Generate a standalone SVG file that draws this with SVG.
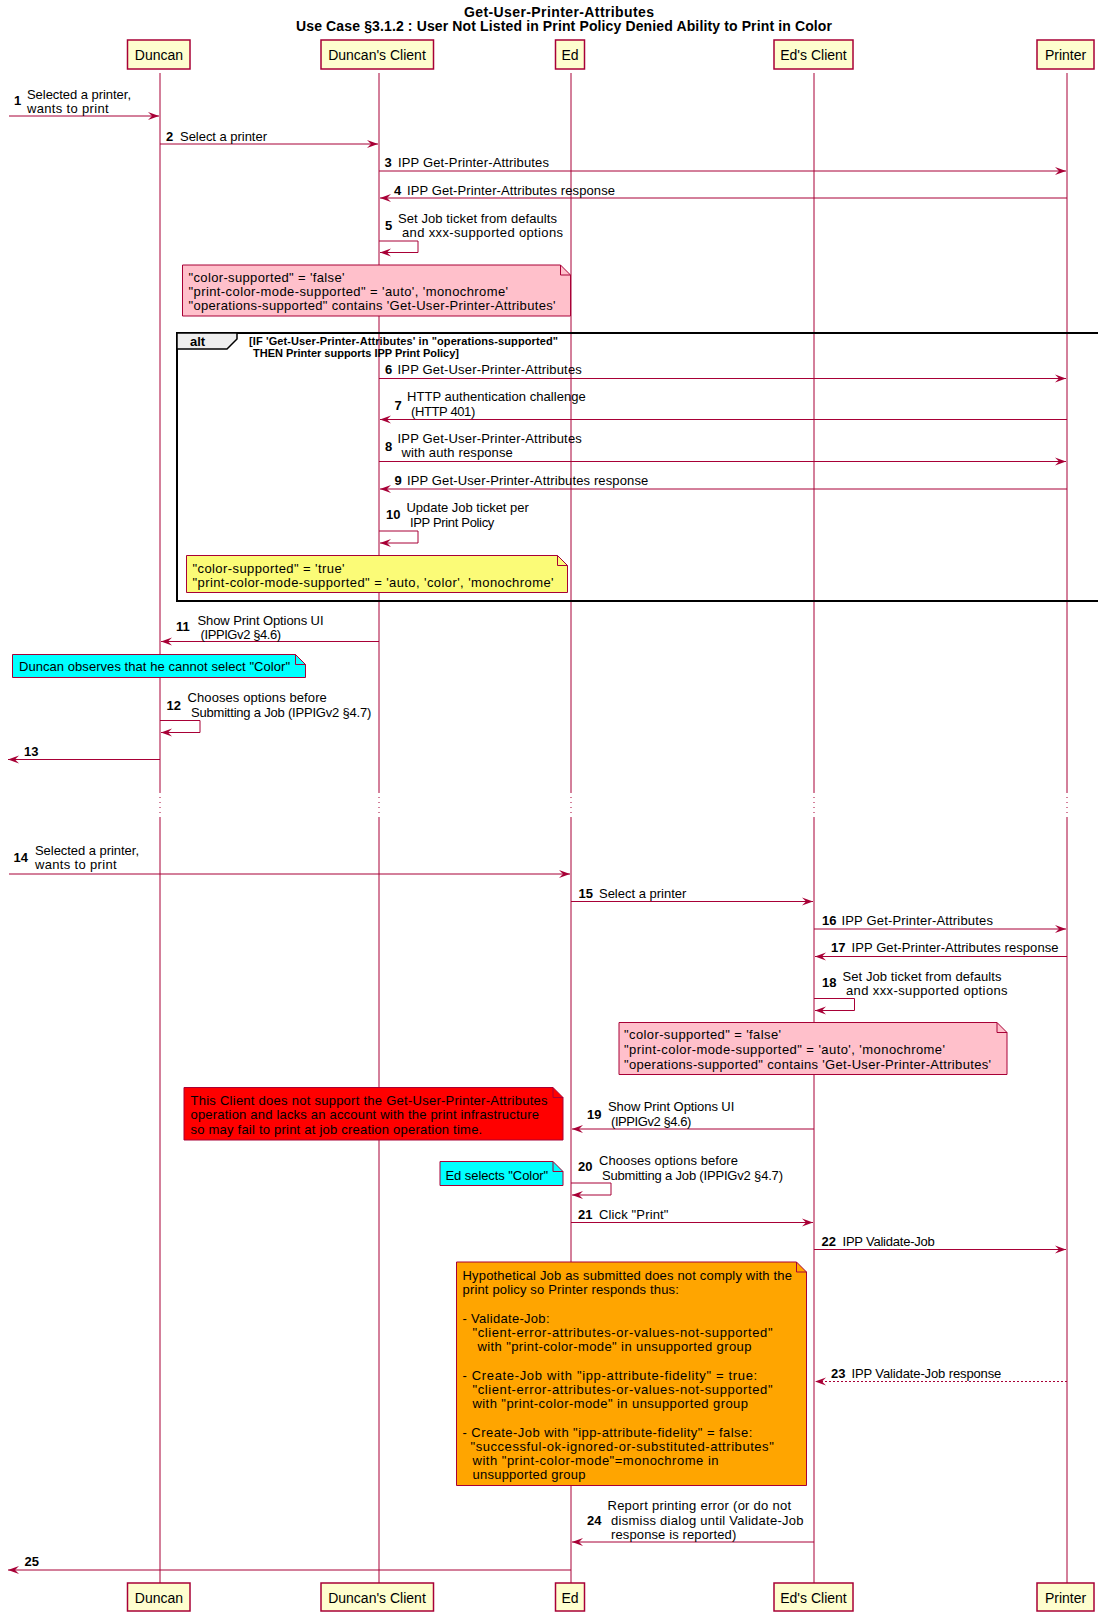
<svg xmlns="http://www.w3.org/2000/svg" width="1098" height="1612" viewBox="0 0 1098 1612">
<style>
text{font-family:"Liberation Sans",Arial,sans-serif;font-size:13px;fill:#000}
.title{font-size:14px;font-weight:bold}
.pt{font-size:14px;text-anchor:middle}
.num{font-weight:bold}
.guard{font-size:11px;font-weight:bold}
.box{fill:#FEFECE;stroke:#A80036;stroke-width:1.5}
.life{stroke:#A80036;stroke-width:1;fill:none}
.dots{stroke:#A80036;stroke-width:1;stroke-dasharray:1,4;fill:none}
.msg{stroke:#A80036;stroke-width:1;fill:none;marker-end:url(#ah)}
.dmsg{stroke:#A80036;stroke-width:1;fill:none;stroke-dasharray:2,2;marker-end:url(#ah)}
.note{stroke:#A80036;stroke-width:1}
.fold{fill:none;stroke:#A80036;stroke-width:1}
.frame{fill:none;stroke:#000;stroke-width:2}
.tab{fill:#EEEEEE;stroke:#000;stroke-width:1.5}
</style>
<defs>
<marker id="ah" markerUnits="userSpaceOnUse" markerWidth="12" markerHeight="10" refX="11" refY="4" orient="auto" viewBox="0 0 12 8">
<path d="M0,0 L11,4 L0,8 L4,4 Z" fill="#A80036"/>
</marker>
</defs>

<text class="title" x="464" y="17" textLength="190">Get-User-Printer-Attributes</text>
<text class="title" x="296" y="31" textLength="536">Use Case §3.1.2 : User Not Listed in Print Policy Denied Ability to Print in Color</text>

<g id="lifelines">
<path class="life" d="M160,73 V792 M160,817 V1583"/>
<path class="dots" d="M160,792 V817"/>
<path class="life" d="M379,73 V792 M379,817 V1583"/>
<path class="dots" d="M379,792 V817"/>
<path class="life" d="M571,73 V792 M571,817 V1583"/>
<path class="dots" d="M571,792 V817"/>
<path class="life" d="M814,73 V792 M814,817 V1583"/>
<path class="dots" d="M814,792 V817"/>
<path class="life" d="M1067,73 V792 M1067,817 V1583"/>
<path class="dots" d="M1067,792 V817"/>
</g>

<g id="p-duncan">
<rect class="box" x="127.5" y="40" width="62.5" height="29"/>
<text class="pt" x="159" y="60">Duncan</text>
<rect class="box" x="127.5" y="1583" width="62.5" height="28"/>
<text class="pt" x="159" y="1603">Duncan</text>
</g>
<g id="p-dclient">
<rect class="box" x="321" y="40" width="112.5" height="29"/>
<text class="pt" x="377" y="60">Duncan's Client</text>
<rect class="box" x="321" y="1583" width="112.5" height="28"/>
<text class="pt" x="377" y="1603">Duncan's Client</text>
</g>
<g id="p-ed">
<rect class="box" x="555.5" y="40" width="29" height="29"/>
<text class="pt" x="570" y="60">Ed</text>
<rect class="box" x="555.5" y="1583" width="29" height="28"/>
<text class="pt" x="570" y="1603">Ed</text>
</g>
<g id="p-eclient">
<rect class="box" x="774" y="40" width="79" height="29"/>
<text class="pt" x="813.5" y="60">Ed's Client</text>
<rect class="box" x="774" y="1583" width="79" height="28"/>
<text class="pt" x="813.5" y="1603">Ed's Client</text>
</g>
<g id="p-printer">
<rect class="box" x="1037" y="40" width="57" height="29"/>
<text class="pt" x="1065.5" y="60">Printer</text>
<rect class="box" x="1037" y="1583" width="57" height="28"/>
<text class="pt" x="1065.5" y="1603">Printer</text>
</g>

<g id="alt-frame">
<rect class="frame" x="177" y="333" width="930" height="268"/>
<polygon class="tab" points="177,333 237,333 237,339 227,349 177,349"/>
<text class="num" x="190" y="345.5">alt</text>
<text class="guard" x="249" y="344.5" textLength="309">[IF 'Get-User-Printer-Attributes' in "operations-supported"</text>
<text class="guard" x="253" y="356.5" textLength="206">THEN Printer supports IPP Print Policy]</text>
</g>

<g id="connectors">
<line class="msg" x1="9" y1="116" x2="159" y2="116"/>
<line class="msg" x1="160" y1="144" x2="378" y2="144"/>
<line class="msg" x1="379" y1="171" x2="1066" y2="171"/>
<line class="msg" x1="1067" y1="198" x2="380" y2="198"/>
<polyline class="msg" points="379,241 418,241 418,252.5 380,252.5"/>
<line class="msg" x1="379" y1="378.5" x2="1066" y2="378.5"/>
<line class="msg" x1="1067" y1="419.5" x2="380" y2="419.5"/>
<line class="msg" x1="379" y1="461.5" x2="1066" y2="461.5"/>
<line class="msg" x1="1067" y1="489" x2="380" y2="489"/>
<polyline class="msg" points="379,531 418,531 418,543 380,543"/>
<line class="msg" x1="379" y1="641.5" x2="161" y2="641.5"/>
<polyline class="msg" points="160,720.5 200,720.5 200,732.5 161,732.5"/>
<line class="msg" x1="160" y1="759.5" x2="8" y2="759.5"/>
<line class="msg" x1="9" y1="874" x2="570" y2="874"/>
<line class="msg" x1="571" y1="901.5" x2="813" y2="901.5"/>
<line class="msg" x1="814" y1="929" x2="1066" y2="929"/>
<line class="msg" x1="1067" y1="956.5" x2="815" y2="956.5"/>
<polyline class="msg" points="814,998.5 854.5,998.5 854.5,1010.5 815,1010.5"/>
<line class="msg" x1="814" y1="1129" x2="572" y2="1129"/>
<polyline class="msg" points="571,1183 611,1183 611,1195 572,1195"/>
<line class="msg" x1="571" y1="1222.5" x2="813" y2="1222.5"/>
<line class="msg" x1="814" y1="1249.5" x2="1066" y2="1249.5"/>
<line class="dmsg" x1="1067" y1="1381.5" x2="815" y2="1381.5"/>
<line class="msg" x1="814" y1="1542" x2="572" y2="1542"/>
<line class="msg" x1="571" y1="1570" x2="8" y2="1570"/>
</g>

<g id="labels">
<text class="num" x="14" y="105">1</text>
<text x="27" y="98.5" textLength="104">Selected a printer,</text>
<text x="27" y="113" textLength="81.7">wants to print</text>
<text class="num" x="166" y="140.5">2</text>
<text x="180" y="140.5" textLength="87">Select a printer</text>
<text class="num" x="384.5" y="167">3</text>
<text x="398" y="167" textLength="151">IPP Get-Printer-Attributes</text>
<text class="num" x="394" y="195">4</text>
<text x="407" y="195" textLength="208">IPP Get-Printer-Attributes response</text>
<text class="num" x="385" y="230">5</text>
<text x="398" y="222.5" textLength="159">Set Job ticket from defaults</text>
<text x="402" y="236.5" textLength="161">and xxx-supported options</text>
<text class="num" x="385" y="374">6</text>
<text x="397.5" y="374" textLength="184.3">IPP Get-User-Printer-Attributes</text>
<text class="num" x="394.5" y="409.5">7</text>
<text x="407" y="401" textLength="178.7">HTTP authentication challenge</text>
<text x="411" y="416" textLength="64.3">(HTTP 401)</text>
<text class="num" x="385" y="450.5">8</text>
<text x="397.5" y="443" textLength="184.3">IPP Get-User-Printer-Attributes</text>
<text x="401.5" y="457" textLength="111.3">with auth response</text>
<text class="num" x="394.5" y="485">9</text>
<text x="407" y="485" textLength="241.3">IPP Get-User-Printer-Attributes response</text>
<text class="num" x="386" y="519">10</text>
<text x="406.5" y="512" textLength="122.3">Update Job ticket per</text>
<text x="410" y="527" textLength="84.3">IPP Print Policy</text>
<text class="num" x="176" y="631">11</text>
<text x="197.5" y="624.5" textLength="126">Show Print Options UI</text>
<text x="200.5" y="638.5" textLength="80.7">(IPPIGv2 §4.6)</text>
<text class="num" x="166.5" y="709.5">12</text>
<text x="187.5" y="702" textLength="139.3">Chooses options before</text>
<text x="191" y="716.5" textLength="180.3">Submitting a Job (IPPIGv2 §4.7)</text>
<text class="num" x="24" y="756">13</text>
<text class="num" x="13.5" y="862">14</text>
<text x="35" y="855" textLength="104">Selected a printer,</text>
<text x="35" y="869" textLength="81.7">wants to print</text>
<text class="num" x="578.5" y="898">15</text>
<text x="599" y="898" textLength="87.3">Select a printer</text>
<text class="num" x="822" y="925">16</text>
<text x="841.5" y="925" textLength="151.4">IPP Get-Printer-Attributes</text>
<text class="num" x="831" y="952">17</text>
<text x="851.5" y="952" textLength="207">IPP Get-Printer-Attributes response</text>
<text class="num" x="822" y="987">18</text>
<text x="842.5" y="980.5" textLength="159">Set Job ticket from defaults</text>
<text x="846" y="994.5" textLength="161.6">and xxx-supported options</text>
<text class="num" x="587" y="1118.5">19</text>
<text x="608" y="1111" textLength="126.3">Show Print Options UI</text>
<text x="611" y="1126" textLength="80.4">(IPPIGv2 §4.6)</text>
<text class="num" x="578" y="1171">20</text>
<text x="599" y="1164.5" textLength="139">Chooses options before</text>
<text x="602" y="1179.5" textLength="181">Submitting a Job (IPPIGv2 §4.7)</text>
<text class="num" x="578" y="1218.5">21</text>
<text x="599" y="1218.5" textLength="69.4">Click "Print"</text>
<text class="num" x="821.5" y="1246">22</text>
<text x="842.5" y="1246" textLength="92.3">IPP Validate-Job</text>
<text class="num" x="831" y="1378">23</text>
<text x="851.5" y="1378" textLength="149.8">IPP Validate-Job response</text>
<text class="num" x="587" y="1524.5">24</text>
<text x="607.5" y="1510" textLength="183.5">Report printing error (or do not</text>
<text x="611" y="1524.5" textLength="192.6">dismiss dialog until Validate-Job</text>
<text x="611" y="1538.5" textLength="125.3">response is reported)</text>
<text class="num" x="24.5" y="1566">25</text>
</g>

<g id="note-1">
<polygon class="note" fill="#FFC0CB" points="182.5,265 560.5,265 570.5,275 570.5,316 182.5,316"/>
<path class="fold" d="M560.5,265 V275 H570.5"/>
<text x="188.5" y="281.5" textLength="156">"color-supported" = 'false'</text>
<text x="188.5" y="296" textLength="319.6">"print-color-mode-supported" = 'auto', 'monochrome'</text>
<text x="188.5" y="310" textLength="367">"operations-supported" contains 'Get-User-Printer-Attributes'</text>
</g>

<g id="note-2">
<polygon class="note" fill="#FBFB77" points="186.5,555.5 557.5,555.5 567.5,565.5 567.5,592.5 186.5,592.5"/>
<path class="fold" d="M557.5,555.5 V565.5 H567.5"/>
<text x="192.5" y="572.5" textLength="152">"color-supported" = 'true'</text>
<text x="192.5" y="586.5" textLength="361">"print-color-mode-supported" = 'auto, 'color', 'monochrome'</text>
</g>

<g id="note-3">
<polygon class="note" fill="#00FFFF" points="12.5,654.5 295.5,654.5 305.5,664.5 305.5,677.5 12.5,677.5"/>
<path class="fold" d="M295.5,654.5 V664.5 H305.5"/>
<text x="19" y="671" textLength="271">Duncan observes that he cannot select "Color"</text>
</g>

<g id="note-4">
<polygon class="note" fill="#FFC0CB" points="619,1022.5 997,1022.5 1007,1032.5 1007,1074.5 619,1074.5"/>
<path class="fold" d="M997,1022.5 V1032.5 H1007"/>
<text x="624" y="1039" textLength="157">"color-supported" = 'false'</text>
<text x="624" y="1054" textLength="321">"print-color-mode-supported" = 'auto', 'monochrome'</text>
<text x="624" y="1068.5" textLength="367">"operations-supported" contains 'Get-User-Printer-Attributes'</text>
</g>

<g id="note-5">
<polygon class="note" fill="#FF0000" points="184,1087.5 553,1087.5 563,1097.5 563,1140 184,1140"/>
<path class="fold" d="M553,1087.5 V1097.5 H563"/>
<text x="190.5" y="1105" textLength="357">This Client does not support the Get-User-Printer-Attributes</text>
<text x="190.5" y="1119" textLength="348.5">operation and lacks an account with the print infrastructure</text>
<text x="190.5" y="1133.5" textLength="291.7">so may fail to print at job creation operation time.</text>
</g>

<g id="note-6">
<polygon class="note" fill="#00FFFF" points="440,1161.5 553,1161.5 563,1171.5 563,1185.5 440,1185.5"/>
<path class="fold" d="M553,1161.5 V1171.5 H563"/>
<text x="445.5" y="1179.5" textLength="102.7">Ed selects "Color"</text>
</g>

<g id="note-7">
<polygon class="note" fill="#FFA500" points="456.5,1262 796.5,1262 806.5,1272 806.5,1485.5 456.5,1485.5"/>
<path class="fold" d="M796.5,1262 V1272 H806.5"/>
<text x="462.5" y="1279.5" textLength="329.4">Hypothetical Job as submitted does not comply with the</text>
<text x="462.5" y="1293.5" textLength="216.3">print policy so Printer responds thus:</text>
<text x="462.5" y="1322.5" textLength="87">- Validate-Job:</text>
<text x="472.5" y="1336.5" textLength="300">"client-error-attributes-or-values-not-supported"</text>
<text x="477.5" y="1350.5" textLength="273.9">with "print-color-mode" in unsupported group</text>
<text x="462.5" y="1379.5" textLength="294.7">- Create-Job with "ipp-attribute-fidelity" = true:</text>
<text x="472.5" y="1393.5" textLength="300">"client-error-attributes-or-values-not-supported"</text>
<text x="472.5" y="1407.5" textLength="275.5">with "print-color-mode" in unsupported group</text>
<text x="462.5" y="1436.5" textLength="289.8">- Create-Job with "ipp-attribute-fidelity" = false:</text>
<text x="470.5" y="1450.5" textLength="303.3">"successful-ok-ignored-or-substituted-attributes"</text>
<text x="472.5" y="1464.5" textLength="246">with "print-color-mode"=monochrome in</text>
<text x="472.5" y="1478.5" textLength="113">unsupported group</text>
</g>
</svg>
